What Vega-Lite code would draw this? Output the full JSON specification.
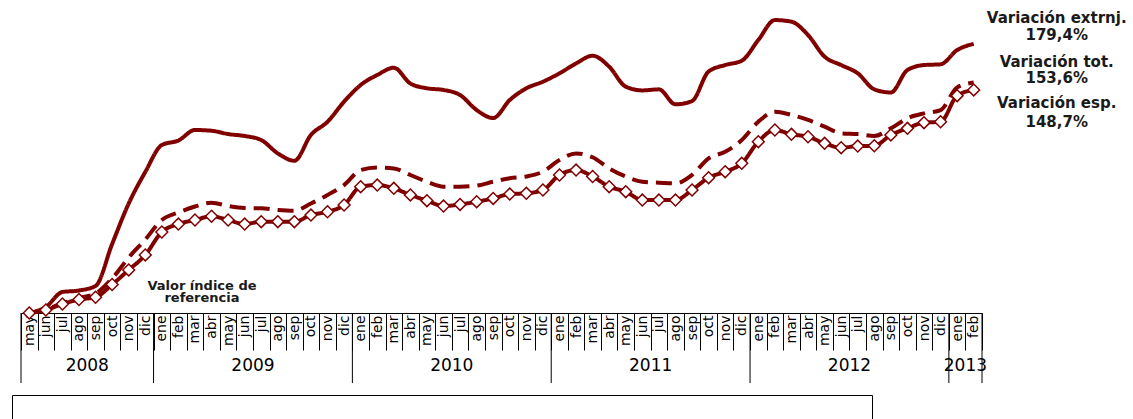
{
"$schema": "https://vega.github.io/schema/vega-lite/v6.json",
"width": 961, "height": 312,
"autosize": "none",
"padding": {"left": 21, "top": 1, "right": 151, "bottom": 106},
"background": "white",
"config": {"view": {"stroke": null}},
"datasets": {
"series": [
{"m":"2008-05","s":"Desempleo Total","v":100},{"m":"2008-06","s":"Desempleo Total","v":102.5},{"m":"2008-07","s":"Desempleo Total","v":106.5},{"m":"2008-08","s":"Desempleo Total","v":110},{"m":"2008-09","s":"Desempleo Total","v":113},{"m":"2008-10","s":"Desempleo Total","v":123},{"m":"2008-11","s":"Desempleo Total","v":137},{"m":"2008-12","s":"Desempleo Total","v":149},
{"m":"2009-01","s":"Desempleo Total","v":162},{"m":"2009-02","s":"Desempleo Total","v":167},{"m":"2009-03","s":"Desempleo Total","v":171},{"m":"2009-04","s":"Desempleo Total","v":173.5},{"m":"2009-05","s":"Desempleo Total","v":171.3},{"m":"2009-06","s":"Desempleo Total","v":170},{"m":"2009-07","s":"Desempleo Total","v":169.8},{"m":"2009-08","s":"Desempleo Total","v":168.7},{"m":"2009-09","s":"Desempleo Total","v":168.2},{"m":"2009-10","s":"Desempleo Total","v":173},{"m":"2009-11","s":"Desempleo Total","v":178.7},{"m":"2009-12","s":"Desempleo Total","v":185.3},
{"m":"2010-01","s":"Desempleo Total","v":195.3},{"m":"2010-02","s":"Desempleo Total","v":197},{"m":"2010-03","s":"Desempleo Total","v":196.4},{"m":"2010-04","s":"Desempleo Total","v":192},{"m":"2010-05","s":"Desempleo Total","v":187.5},{"m":"2010-06","s":"Desempleo Total","v":184.2},{"m":"2010-07","s":"Desempleo Total","v":184.2},{"m":"2010-08","s":"Desempleo Total","v":184.9},{"m":"2010-09","s":"Desempleo Total","v":187.5},{"m":"2010-10","s":"Desempleo Total","v":189.8},{"m":"2010-11","s":"Desempleo Total","v":191},{"m":"2010-12","s":"Desempleo Total","v":194.2},
{"m":"2011-01","s":"Desempleo Total","v":202},{"m":"2011-02","s":"Desempleo Total","v":206.4},{"m":"2011-03","s":"Desempleo Total","v":203.8},{"m":"2011-04","s":"Desempleo Total","v":196.4},{"m":"2011-05","s":"Desempleo Total","v":191},{"m":"2011-06","s":"Desempleo Total","v":187.5},{"m":"2011-07","s":"Desempleo Total","v":186.9},{"m":"2011-08","s":"Desempleo Total","v":186.4},{"m":"2011-09","s":"Desempleo Total","v":192},{"m":"2011-10","s":"Desempleo Total","v":203.1},{"m":"2011-11","s":"Desempleo Total","v":207.5},{"m":"2011-12","s":"Desempleo Total","v":215.3},
{"m":"2012-01","s":"Desempleo Total","v":227.5},{"m":"2012-02","s":"Desempleo Total","v":234.2},{"m":"2012-03","s":"Desempleo Total","v":232},{"m":"2012-04","s":"Desempleo Total","v":228.7},{"m":"2012-05","s":"Desempleo Total","v":224.2},{"m":"2012-06","s":"Desempleo Total","v":219.8},{"m":"2012-07","s":"Desempleo Total","v":219.3},{"m":"2012-08","s":"Desempleo Total","v":218},{"m":"2012-09","s":"Desempleo Total","v":223.1},{"m":"2012-10","s":"Desempleo Total","v":229.8},{"m":"2012-11","s":"Desempleo Total","v":233.1},{"m":"2012-12","s":"Desempleo Total","v":235.3},
{"m":"2013-01","s":"Desempleo Total","v":250.4},{"m":"2013-02","s":"Desempleo Total","v":253.6},
{"m":"2008-05","s":"Desempleo extranjero","v":100},{"m":"2008-06","s":"Desempleo extranjero","v":104},{"m":"2008-07","s":"Desempleo extranjero","v":114},{"m":"2008-08","s":"Desempleo extranjero","v":115},{"m":"2008-09","s":"Desempleo extranjero","v":118},{"m":"2008-10","s":"Desempleo extranjero","v":146},{"m":"2008-11","s":"Desempleo extranjero","v":173},{"m":"2008-12","s":"Desempleo extranjero","v":194},
{"m":"2009-01","s":"Desempleo extranjero","v":212},{"m":"2009-02","s":"Desempleo extranjero","v":215},{"m":"2009-03","s":"Desempleo extranjero","v":222},{"m":"2009-04","s":"Desempleo extranjero","v":221.5},{"m":"2009-05","s":"Desempleo extranjero","v":219.3},{"m":"2009-06","s":"Desempleo extranjero","v":218},{"m":"2009-07","s":"Desempleo extranjero","v":215.3},{"m":"2009-08","s":"Desempleo extranjero","v":206.4},{"m":"2009-09","s":"Desempleo extranjero","v":201.5},{"m":"2009-10","s":"Desempleo extranjero","v":218.7},{"m":"2009-11","s":"Desempleo extranjero","v":227.5},{"m":"2009-12","s":"Desempleo extranjero","v":240.9},
{"m":"2010-01","s":"Desempleo extranjero","v":252},{"m":"2010-02","s":"Desempleo extranjero","v":258.7},{"m":"2010-03","s":"Desempleo extranjero","v":263.5},{"m":"2010-04","s":"Desempleo extranjero","v":253},{"m":"2010-05","s":"Desempleo extranjero","v":249.8},{"m":"2010-06","s":"Desempleo extranjero","v":248.7},{"m":"2010-07","s":"Desempleo extranjero","v":245.3},{"m":"2010-08","s":"Desempleo extranjero","v":235.3},{"m":"2010-09","s":"Desempleo extranjero","v":230},{"m":"2010-10","s":"Desempleo extranjero","v":242},{"m":"2010-11","s":"Desempleo extranjero","v":249.8},{"m":"2010-12","s":"Desempleo extranjero","v":254.2},
{"m":"2011-01","s":"Desempleo extranjero","v":259.8},{"m":"2011-02","s":"Desempleo extranjero","v":266.4},{"m":"2011-03","s":"Desempleo extranjero","v":271.5},{"m":"2011-04","s":"Desempleo extranjero","v":264.2},{"m":"2011-05","s":"Desempleo extranjero","v":250.9},{"m":"2011-06","s":"Desempleo extranjero","v":248.4},{"m":"2011-07","s":"Desempleo extranjero","v":249.1},{"m":"2011-08","s":"Desempleo extranjero","v":239.1},{"m":"2011-09","s":"Desempleo extranjero","v":241.3},{"m":"2011-10","s":"Desempleo extranjero","v":261},{"m":"2011-11","s":"Desempleo extranjero","v":265.3},{"m":"2011-12","s":"Desempleo extranjero","v":268.2},
{"m":"2012-01","s":"Desempleo extranjero","v":282},{"m":"2012-02","s":"Desempleo extranjero","v":295.3},{"m":"2012-03","s":"Desempleo extranjero","v":294.2},{"m":"2012-04","s":"Desempleo extranjero","v":285.3},{"m":"2012-05","s":"Desempleo extranjero","v":270.9},{"m":"2012-06","s":"Desempleo extranjero","v":265.3},{"m":"2012-07","s":"Desempleo extranjero","v":259.8},{"m":"2012-08","s":"Desempleo extranjero","v":249.1},{"m":"2012-09","s":"Desempleo extranjero","v":247},{"m":"2012-10","s":"Desempleo extranjero","v":262},{"m":"2012-11","s":"Desempleo extranjero","v":265.3},{"m":"2012-12","s":"Desempleo extranjero","v":265.8},
{"m":"2013-01","s":"Desempleo extranjero","v":275.3},{"m":"2013-02","s":"Desempleo extranjero","v":279.4},
{"m":"2008-05","s":"Desempleo españoles/as","v":100},{"m":"2008-06","s":"Desempleo españoles/as","v":102},{"m":"2008-07","s":"Desempleo españoles/as","v":106},{"m":"2008-08","s":"Desempleo españoles/as","v":109},{"m":"2008-09","s":"Desempleo españoles/as","v":110.5},{"m":"2008-10","s":"Desempleo españoles/as","v":119},{"m":"2008-11","s":"Desempleo españoles/as","v":128.7},{"m":"2008-12","s":"Desempleo españoles/as","v":138.7},
{"m":"2009-01","s":"Desempleo españoles/as","v":154},{"m":"2009-02","s":"Desempleo españoles/as","v":159.3},{"m":"2009-03","s":"Desempleo españoles/as","v":162},{"m":"2009-04","s":"Desempleo españoles/as","v":164.5},{"m":"2009-05","s":"Desempleo españoles/as","v":162},{"m":"2009-06","s":"Desempleo españoles/as","v":159.3},{"m":"2009-07","s":"Desempleo españoles/as","v":160.9},{"m":"2009-08","s":"Desempleo españoles/as","v":160.9},{"m":"2009-09","s":"Desempleo españoles/as","v":160.9},{"m":"2009-10","s":"Desempleo españoles/as","v":165.3},{"m":"2009-11","s":"Desempleo españoles/as","v":167.5},{"m":"2009-12","s":"Desempleo españoles/as","v":172},
{"m":"2010-01","s":"Desempleo españoles/as","v":184.2},{"m":"2010-02","s":"Desempleo españoles/as","v":185.3},{"m":"2010-03","s":"Desempleo españoles/as","v":183.1},{"m":"2010-04","s":"Desempleo españoles/as","v":178.7},{"m":"2010-05","s":"Desempleo españoles/as","v":174.9},{"m":"2010-06","s":"Desempleo españoles/as","v":171.3},{"m":"2010-07","s":"Desempleo españoles/as","v":172.4},{"m":"2010-08","s":"Desempleo españoles/as","v":174.2},{"m":"2010-09","s":"Desempleo españoles/as","v":176.4},{"m":"2010-10","s":"Desempleo españoles/as","v":179.3},{"m":"2010-11","s":"Desempleo españoles/as","v":179.8},{"m":"2010-12","s":"Desempleo españoles/as","v":182},
{"m":"2011-01","s":"Desempleo españoles/as","v":192},{"m":"2011-02","s":"Desempleo españoles/as","v":195.3},{"m":"2011-03","s":"Desempleo españoles/as","v":191},{"m":"2011-04","s":"Desempleo españoles/as","v":184.2},{"m":"2011-05","s":"Desempleo españoles/as","v":180.9},{"m":"2011-06","s":"Desempleo españoles/as","v":175.3},{"m":"2011-07","s":"Desempleo españoles/as","v":175.3},{"m":"2011-08","s":"Desempleo españoles/as","v":175.3},{"m":"2011-09","s":"Desempleo españoles/as","v":182},{"m":"2011-10","s":"Desempleo españoles/as","v":190.2},{"m":"2011-11","s":"Desempleo españoles/as","v":194.2},{"m":"2011-12","s":"Desempleo españoles/as","v":199.8},
{"m":"2012-01","s":"Desempleo españoles/as","v":214.2},{"m":"2012-02","s":"Desempleo españoles/as","v":222},{"m":"2012-03","s":"Desempleo españoles/as","v":219.1},{"m":"2012-04","s":"Desempleo españoles/as","v":217.5},{"m":"2012-05","s":"Desempleo españoles/as","v":213.1},{"m":"2012-06","s":"Desempleo españoles/as","v":210.2},{"m":"2012-07","s":"Desempleo españoles/as","v":211.3},{"m":"2012-08","s":"Desempleo españoles/as","v":211.5},{"m":"2012-09","s":"Desempleo españoles/as","v":218.7},{"m":"2012-10","s":"Desempleo españoles/as","v":223.1},{"m":"2012-11","s":"Desempleo españoles/as","v":226.9},{"m":"2012-12","s":"Desempleo españoles/as","v":227.5},
{"m":"2013-01","s":"Desempleo españoles/as","v":244.9},{"m":"2013-02","s":"Desempleo españoles/as","v":248.7}
],
"notes": [
{"m":"2013-02","v":296.7,"t":"Variación extrnj."},
{"m":"2013-02","v":285.3,"t":"179,4%"},
{"m":"2013-02","v":267.3,"t":"Variación tot."},
{"m":"2013-02","v":256.7,"t":"153,6%"},
{"m":"2013-02","v":240,"t":"Variación esp."},
{"m":"2013-02","v":227.3,"t":"148,7%"}
],
"refnote": [
{"m":"2009-03","v":118,"t":"Valor índice de"},
{"m":"2009-03","v":110,"t":"referencia"}
],
"years": [
{"m":"2008-05","c":"2008-08","yr":"2008"},
{"m":"2009-01","c":"2009-06","yr":"2009"},
{"m":"2010-01","c":"2010-06","yr":"2010"},
{"m":"2011-01","c":"2011-06","yr":"2011"},
{"m":"2012-01","c":"2012-06","yr":"2012"},
{"m":"2013-01","c":"2013-01","yr":"2013"}
],
"yearend": [
{"m":"2013-02"}
]
},
"layer": [
{
"data": {"name": "series"},
"mark": {"type": "line", "interpolate": "monotone", "strokeWidth": 4},
"encoding": {
"x": {"field": "m", "type": "ordinal",
 "scale": {"type": "band", "paddingInner": 0, "paddingOuter": 0,
  "domain": ["2008-05","2008-06","2008-07","2008-08","2008-09","2008-10","2008-11","2008-12","2009-01","2009-02","2009-03","2009-04","2009-05","2009-06","2009-07","2009-08","2009-09","2009-10","2009-11","2009-12","2010-01","2010-02","2010-03","2010-04","2010-05","2010-06","2010-07","2010-08","2010-09","2010-10","2010-11","2010-12","2011-01","2011-02","2011-03","2011-04","2011-05","2011-06","2011-07","2011-08","2011-09","2011-10","2011-11","2011-12","2012-01","2012-02","2012-03","2012-04","2012-05","2012-06","2012-07","2012-08","2012-09","2012-10","2012-11","2012-12","2013-01","2013-02"]},
 "axis": {"orient": "bottom", "title": null, "grid": false,
  "domain": true, "domainColor": "black",
  "tickBand": "extent", "tickSize": 37, "tickColor": "black",
  "labelAngle": 270, "labelFont": "DejaVu Sans", "labelFontSize": 14, "labelColor": "black",
  "labelPadding": -35, "labelOverlap": false,
  "labelExpr": "isString(datum.value) ? substring('enefebmarabrmayjunjulagosepoctnovdic', (toNumber(substring(datum.value,5,7))-1)*3, toNumber(substring(datum.value,5,7))*3) : ''"}},
"y": {"field": "v", "type": "quantitative", "scale": {"domain": [100, 308], "nice": false, "zero": false}, "axis": null},
"color": {"field": "s", "type": "nominal",
 "scale": {"domain": ["Desempleo Total", "Desempleo extranjero", "Desempleo españoles/as"], "range": ["#800000", "#800000", "#800000"]},
 "legend": {"title": null, "orient": "none", "legendX": -9, "legendY": 394, "direction": "horizontal",
  "strokeColor": "black", "padding": 8,
  "labelFont": "DejaVu Sans", "labelFontSize": 18, "labelColor": "black", "labelOffset": 6,
  "columnPadding": 50, "symbolSize": 6400, "symbolType": "stroke", "symbolStrokeWidth": 4}},
"strokeDash": {"field": "s", "type": "nominal",
 "scale": {"domain": ["Desempleo Total", "Desempleo extranjero", "Desempleo españoles/as"], "range": [[16, 8], [1, 0], [1, 0]]},
 "legend": {"title": null, "orient": "none", "legendX": -9, "legendY": 394, "direction": "horizontal",
  "strokeColor": "black", "padding": 8,
  "labelFont": "DejaVu Sans", "labelFontSize": 18, "labelColor": "black", "labelOffset": 6,
  "columnPadding": 50, "symbolSize": 6400, "symbolType": "stroke", "symbolStrokeWidth": 4}}
}
},
{
"data": {"name": "series"},
"mark": {"type": "point", "shape": "diamond", "filled": true, "fill": "white", "stroke": "#800000", "strokeWidth": 1.5, "size": 140},
"encoding": {
"x": {"field": "m", "type": "ordinal"},
"y": {"field": "v", "type": "quantitative"},
"opacity": {"condition": {"test": "datum.s === 'Desempleo españoles/as'", "value": 1}, "value": 0}
}
},
{
"data": {"name": "notes"},
"mark": {"type": "text", "font": "DejaVu Sans", "fontWeight": "bold", "fontSize": 15, "color": "#1a1a1a", "dx": 83, "align": "center", "baseline": "middle"},
"encoding": {
"x": {"field": "m", "type": "ordinal"},
"y": {"field": "v", "type": "quantitative"},
"text": {"field": "t"}
}
},
{
"data": {"name": "refnote"},
"mark": {"type": "text", "font": "DejaVu Sans", "fontWeight": "bold", "fontSize": 13, "color": "#1a1a1a", "dx": 7, "align": "center", "baseline": "middle"},
"encoding": {
"x": {"field": "m", "type": "ordinal"},
"y": {"field": "v", "type": "quantitative"},
"text": {"field": "t"}
}
},
{
"data": {"name": "years"},
"mark": {"type": "rule", "color": "black", "strokeWidth": 1},
"encoding": {
"x": {"field": "m", "type": "ordinal", "bandPosition": 0},
"y": {"datum": 100},
"y2": {"datum": 53.3}
}
},
{
"data": {"name": "yearend"},
"mark": {"type": "rule", "color": "black", "strokeWidth": 1},
"encoding": {
"x": {"field": "m", "type": "ordinal", "bandPosition": 1},
"y": {"datum": 100},
"y2": {"datum": 53.3}
}
},
{
"data": {"name": "years"},
"mark": {"type": "text", "font": "DejaVu Sans", "fontSize": 17, "color": "black", "align": "center", "baseline": "middle"},
"encoding": {
"x": {"field": "c", "type": "ordinal", "bandPosition": 1},
"y": {"datum": 64.7},
"text": {"field": "yr"}
}
}
]
}
